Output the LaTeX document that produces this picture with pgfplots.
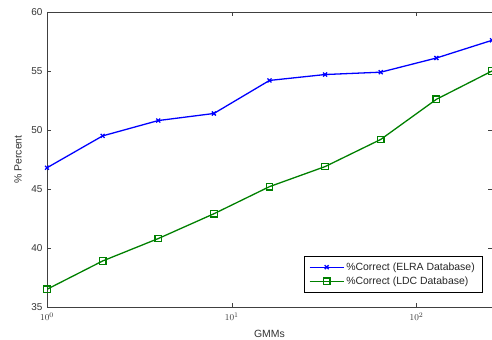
\documentclass[border=0pt]{standalone}
\usepackage{pgfplots}
\pgfplotsset{compat=1.18}
\usepackage{fontspec}
\setmainfont{Liberation Sans}
\pgfplotsset{
  /pgfplots/legend image code/.code={\draw[mark repeat=2,mark phase=2] plot coordinates {(0bp,0bp) (17bp,0bp) (34bp,0bp)};},
}
\begin{document}
\begin{tikzpicture}
\begin{axis}[name=ax,
  scale only axis, width=445bp, height=295bp,
  xmode=log, log basis x=10,
  xmin=1, xmax=256, ymin=35, ymax=60,
  ytick={35,40,45,50,55,60},
  xtick={1,10,100},
  tick align=inside, tick pos=both,
  major tick length=4bp, minor tick length=2.5bp,
  axis line style={draw=black!75}, every tick/.style={draw=black!75},
  /pgf/number format/assume math mode=true,
  yticklabel style={font=\fontsize{10}{12}\selectfont, text=black!80, xshift=-1bp},
  xticklabel style={font=\fontsize{9.5}{11}\selectfont, text=black!80, yshift=-2bp},
  label style={font=\fontsize{10.5}{12}\selectfont, text=black!80},
  xlabel={GMMs}, ylabel={\% Percent},
  xlabel style={at={(axis description cs:0.5,-0.0915)}, anchor=center},
  ylabel style={at={(axis description cs:-0.065,0.5)}, anchor=center},
  legend style={at={(0.9775,0.051)}, anchor=south east, draw=black, font=\fontsize{10.5}{12}\selectfont, row sep=1bp, inner xsep=5bp, inner ysep=4bp, cells={anchor=west, text=black!85}},
  legend cell align=left,
]
\addplot[blue, line width=1.3pt, mark=x, mark size=2.8bp, mark options={line width=1.3pt}] coordinates {
 (1,46.8) (2,49.5) (4,50.8) (8,51.4) (16,54.2) (32,54.7) (64,54.9) (128,56.1) (256,57.6)};
\addlegendentry{\%Correct (ELRA Database)}
\addplot[green!50!black, line width=1.3pt, mark=square, mark size=3.3bp, mark options={line width=1.2pt}] coordinates {
 (1,36.5) (2,38.9) (4,40.8) (8,42.9) (16,45.2) (32,46.9) (64,49.2) (128,52.6) (256,55.0)};
\addlegendentry{\%Correct (LDC Database)}
\end{axis}
\pgfresetboundingbox
\path[use as bounding box] ([xshift=-47bp,yshift=12bp]ax.north west) rectangle ([yshift=-33bp]ax.south east);
\end{tikzpicture}
\end{document}
